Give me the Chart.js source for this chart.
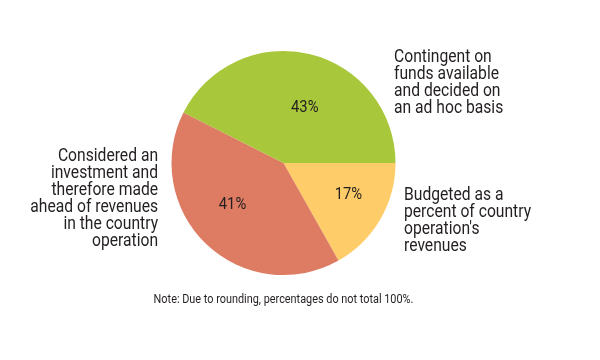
<!DOCTYPE html>
<html>
<head>
<meta charset="utf-8">
<script src="https://cdn.jsdelivr.net/npm/chart.js@4/dist/chart.umd.min.js"></script>
<style>
html,body{margin:0;padding:0;background:#fff;}
#wrap{width:600px;height:360px;position:relative;}
</style>
</head>
<body>
<div id="wrap"><canvas id="c" width="600" height="360"></canvas></div>
<script>
// Data (drawn clockwise from 3 o'clock)
const categories = [
  "Budgeted as a percent of country operation's revenues",
  "Considered an investment and therefore made ahead of revenues in the country operation",
  "Contingent on funds available and decided on an ad hoc basis"
];
const values = [17, 41, 43];
const valueLabels = ["17%", "41%", "43%"];
const labelLines = [
  ["Budgeted as a", "percent of country", "operation's", "revenues"],
  ["Considered an", "investment and", "therefore made", "ahead of revenues", "in the country", "operation"],
  ["Contingent on", "funds available", "and decided on", "an ad hoc basis"]
];
const colors = ["#FECC68", "#DD7B63", "#A8C73A"];
const noteText = "Note: Due to rounding, percentages do not total 100%.";

const FONT = 'Roboto, "Liberation Sans", Arial, sans-serif';
const TEXT = "#231F20";
const SX = 0.87; // horizontal condensing of text

// label layout relative to pie center, in units of radius
const inLabelPos = [[0.58, 0.28], [-0.455, 0.375], [0.19, -0.49]];
const outLabelPos = [[1.076, 0.286, 'left'], [-1.12, -0.054, 'right'], [0.987, -0.946, 'left']];

function condensedText(ctx, t, x, y) {
  ctx.save();
  ctx.translate(x, y);
  ctx.scale(SX, 1);
  ctx.fillText(t, 0, 0);
  ctx.restore();
}

const labelPlugin = {
  id: 'labels',
  afterDatasetsDraw(chart) {
    const ctx = chart.ctx;
    const arc = chart.getDatasetMeta(0).data[0];
    const cx = arc.x, cy = arc.y, r = arc.outerRadius;
    ctx.save();
    ctx.fillStyle = TEXT;
    ctx.textBaseline = 'middle';
    ctx.font = '17px ' + FONT;
    ctx.textAlign = 'center';
    valueLabels.forEach((t, i) => {
      condensedText(ctx, t, cx + inLabelPos[i][0] * r, cy + inLabelPos[i][1] * r);
    });
    ctx.font = '18px ' + FONT;
    const lh = 17;
    labelLines.forEach((lines, i) => {
      const [fx, fy, al] = outLabelPos[i];
      ctx.textAlign = al;
      lines.forEach((ln, j) => {
        condensedText(ctx, ln, cx + fx * r, cy + fy * r + j * lh);
      });
    });
    ctx.font = '12.5px ' + FONT;
    ctx.textAlign = 'center';
    condensedText(ctx, noteText, cx, cy + r + 25);
    ctx.restore();
  }
};

new Chart(document.getElementById('c'), {
  type: 'pie',
  data: {
    labels: categories,
    datasets: [{
      data: values,
      backgroundColor: colors,
      borderWidth: 0
    }]
  },
  options: {
    responsive: false,
    animation: false,
    rotation: 90,
    layout: { padding: { left: 171.5, right: 204.5, top: 51, bottom: 85 } },
    plugins: { legend: { display: false }, tooltip: { enabled: false } }
  },
  plugins: [labelPlugin]
});
</script>
</body>
</html>
